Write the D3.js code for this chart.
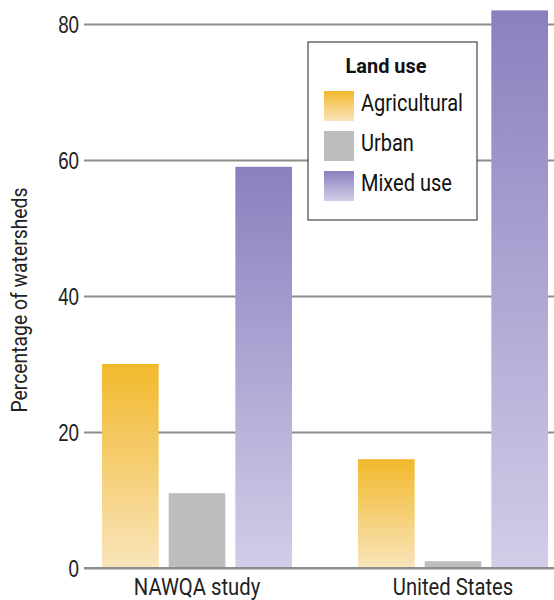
<!DOCTYPE html>
<html>
<head>
<meta charset="utf-8">
<script src="https://cdn.jsdelivr.net/npm/d3@7"></script>
<style>
  body { margin: 0; background: #fff; }
  svg { display: block; font-family: "Roboto", "Liberation Sans", sans-serif; }
</style>
</head>
<body>
<svg id="chart" width="554" height="600"></svg>
<script>
// data
const groups = ["NAWQA study", "United States"];
const landUses = ["Agricultural", "Urban", "Mixed use"];
const agricultural = [30, 16];
const urban = [11, 1];
const mixedUse = [59, 82];
const yTicks = [0, 20, 40, 60, 80];

const series = [agricultural, urban, mixedUse];
const colors = {
  "Agricultural": ["#f2b92c", "#f9e4bb"],
  "Urban": ["#bcbdbf", "#bcbdbf"],
  "Mixed use": ["#8a80bf", "#d2cde8"]
};

const svg = d3.select("#chart");
const defs = svg.append("defs");

// condensed look: squeeze text horizontally around its anchor point
function squeeze(sel, x, y, sx) {
  sel.attr("x", 0).attr("y", 0)
    .attr("transform", `translate(${x},${y}) scale(${sx},1)`);
}

landUses.forEach((u, i) => {
  const g = defs.append("linearGradient")
    .attr("id", "grad" + i)
    .attr("x1", 0).attr("y1", 0).attr("x2", 0).attr("y2", 1);
  g.append("stop").attr("offset", "0%").attr("stop-color", colors[u][0]);
  g.append("stop").attr("offset", "100%").attr("stop-color", colors[u][1]);
});

const y = d3.scaleLinear().domain([0, 80]).range([568, 24]);

const x0 = d3.scaleBand().domain(groups).range([102, 548]).paddingInner(66 / 256);
const x1 = d3.scaleBand().domain(landUses).range([0, x0.bandwidth()]).paddingInner(0.15);

// gridlines
const yAxis = d3.axisLeft(y).tickValues(yTicks).tickSize(-(554 - 84));
const gy = svg.append("g").attr("transform", "translate(84,0)").call(yAxis);
gy.select(".domain").remove();
gy.selectAll(".tick line").attr("stroke", "#8c8c8c").attr("stroke-width", 2);
gy.selectAll(".tick text")
  .attr("fill", "#222")
  .style("font-size", "24px")
  .attr("dy", "0.36em")
  .attr("x", -5 / 0.78)
  .attr("transform", "scale(0.78,1)");

// bars
const rows = [];
groups.forEach((g, gi) => {
  landUses.forEach((u, ui) => rows.push({ group: g, use: u, ui: ui, value: series[ui][gi] }));
});

svg.append("g").selectAll("rect")
  .data(rows)
  .enter().append("rect")
  .attr("x", d => x0(d.group) + x1(d.use))
  .attr("width", x1.bandwidth())
  .attr("y", d => y(d.value))
  .attr("height", d => y(0) - y(d.value))
  .attr("fill", d => "url(#grad" + d.ui + ")");

// baseline over the bars
svg.append("line")
  .attr("x1", 84).attr("x2", 554)
  .attr("y1", y(0)).attr("y2", y(0))
  .attr("stroke", "#8c8c8c").attr("stroke-width", 2);

// group labels
svg.append("g").selectAll("text")
  .data(groups)
  .enter().append("text")
  .attr("text-anchor", "middle")
  .attr("fill", "#222")
  .style("font-size", "23px")
  .text(d => d)
  .each(function(d) {
    squeeze(d3.select(this), x0(d) + x0.bandwidth() / 2, 595, 0.88);
  });

// y axis title
svg.append("text")
  .attr("transform", "translate(27,300) rotate(-90) scale(0.9,1)")
  .attr("text-anchor", "middle")
  .attr("fill", "#222")
  .style("font-size", "21.5px")
  .text("Percentage of watersheds");

// legend
const legend = svg.append("g").attr("transform", "translate(308,42)");
legend.append("rect")
  .attr("width", 169).attr("height", 178)
  .attr("fill", "#fff").attr("stroke", "#222").attr("stroke-width", 1);
legend.append("text")
  .attr("text-anchor", "middle")
  .attr("fill", "#111")
  .style("font-size", "21px").style("font-weight", "bold")
  .text("Land use")
  .call(squeeze, 78, 31, 0.95);

const item = legend.selectAll(".item")
  .data(landUses)
  .enter().append("g")
  .attr("class", "item")
  .attr("transform", (d, i) => "translate(16," + (49 + i * 40) + ")");
item.append("rect")
  .attr("width", 30).attr("height", 30)
  .attr("fill", (d, i) => "url(#grad" + i + ")");
item.append("text")
  .attr("fill", "#111")
  .style("font-size", "23px")
  .text(d => d)
  .call(squeeze, 37, 20, 0.87);
</script>
</body>
</html>
